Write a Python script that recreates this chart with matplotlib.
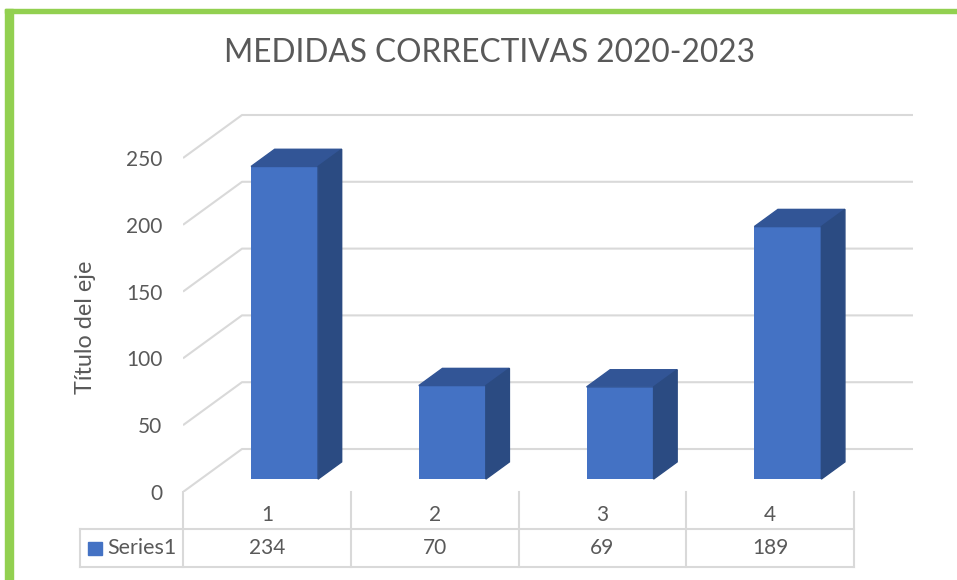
import matplotlib.pyplot as plt
from matplotlib.patches import Polygon, Rectangle

categories = ['1', '2', '3', '4']
values = [234, 70, 69, 189]
series_name = 'Series1'
y_ticks = [0, 50, 100, 150, 200, 250]
title = 'MEDIDAS CORRECTIVAS 2020-2023'
y_label = 'Título del eje'

plt.rcParams['font.family'] = ['Lato', 'DejaVu Sans']

front_col = '#4472C4'
top_col = '#325596'
side_col = '#2B4B82'
grid_col = '#D9D9D9'
text_col = '#595959'
green = '#92D050'

W, H = 957, 580
fig = plt.figure(figsize=(W / 100, H / 100), dpi=100)

# pixel scale of the oblique 3D projection
px_x = 167.75   # pixels per category
px_y = 1.336    # pixels per value unit
x0, y0 = 183, 492   # front-left corner of the floor
DX = 59 / px_x      # depth offset (category units)
DY = 43 / px_y      # depth offset (value units)
ax_w, ax_h = 730, 392
ax = fig.add_axes([x0 / W, (H - y0) / H, ax_w / W, ax_h / H])
ax.set_xlim(0, ax_w / px_x)
ax.set_ylim(0, ax_h / px_y)
n = len(categories)

# walls: side wall diagonals + back wall gridlines
for v in y_ticks:
    ax.plot([0, DX, n + DX], [v, v + DY, v + DY], color=grid_col, lw=1.5,
            zorder=1, solid_capstyle='butt')

# bars
d0 = 0.30   # depth position of bar front
dd = 0.40   # bar depth fraction
bw = 67 / px_x
for i, v in enumerate(values):
    xc = i + 0.5 + d0 * DX
    b = d0 * DY
    left = xc - bw / 2
    ax.bar(xc, v, width=bw, bottom=b, color=front_col, zorder=3)
    ax.add_patch(Polygon([(left, b + v), (left + bw, b + v),
                          (left + bw + dd * DX, b + v + dd * DY),
                          (left + dd * DX, b + v + dd * DY)],
                         closed=True, color=top_col, zorder=3))
    ax.add_patch(Polygon([(left + bw, b), (left + bw + dd * DX, b + dd * DY),
                          (left + bw + dd * DX, b + v + dd * DY),
                          (left + bw, b + v)],
                         closed=True, color=side_col, zorder=3))

ax.set_yticks(y_ticks)
ax.set_yticklabels([str(t) for t in y_ticks])
ax.tick_params(axis='y', length=0, pad=15, labelsize=15, labelcolor=text_col)
ax.set_xticks([])
for s in ax.spines.values():
    s.set_visible(False)
ax.patch.set_alpha(0)

# data table below the floor
r1 = -(529 - y0) / px_y
r2 = -(567 - y0) / px_y
xl = -(x0 - 80) / px_x
for i in range(n + 1):
    ax.plot([i, i], [0, r2], color=grid_col, lw=1.5, clip_on=False)
ax.plot([xl, xl], [r1, r2], color=grid_col, lw=1.5, clip_on=False)
ax.plot([xl, n], [r1, r1], color=grid_col, lw=1.5, clip_on=False)
ax.plot([xl, n], [r2, r2], color=grid_col, lw=1.5, clip_on=False)
yc1 = -(515 - y0) / px_y
yc2 = -(548 - y0) / px_y
for i, (c, v) in enumerate(zip(categories, values)):
    ax.text(i + 0.5, yc1, c, ha='center', va='center', fontsize=15,
            color=text_col, clip_on=False)
    ax.text(i + 0.5, yc2, str(v), ha='center', va='center', fontsize=15,
            color=text_col, clip_on=False)
ax.add_patch(Rectangle((-(x0 - 88) / px_x, -(555 - y0) / px_y), 14 / px_x,
                       13 / px_y, color=front_col, clip_on=False))
ax.text(-(x0 - 107) / px_x, yc2, series_name, ha='left', va='center',
        fontsize=15.5, color=text_col, clip_on=False)

fig.text(489 / W, 1 - 53 / H, title, ha='center', va='center', fontsize=22.8,
         color=text_col)
fig.text(85 / W, 1 - 327 / H, y_label, ha='center', va='center', rotation=90,
         fontsize=16.8, color=text_col)

# green frame on the left and top
fig.add_artist(Rectangle((5 / W, 0), 8 / W, 1 - 9 / H,
                         transform=fig.transFigure, color=green))
fig.add_artist(Rectangle((5 / W, 1 - 13 / H), 1, 4 / H,
                         transform=fig.transFigure, color=green))

fig.savefig('out.png', dpi=100)
